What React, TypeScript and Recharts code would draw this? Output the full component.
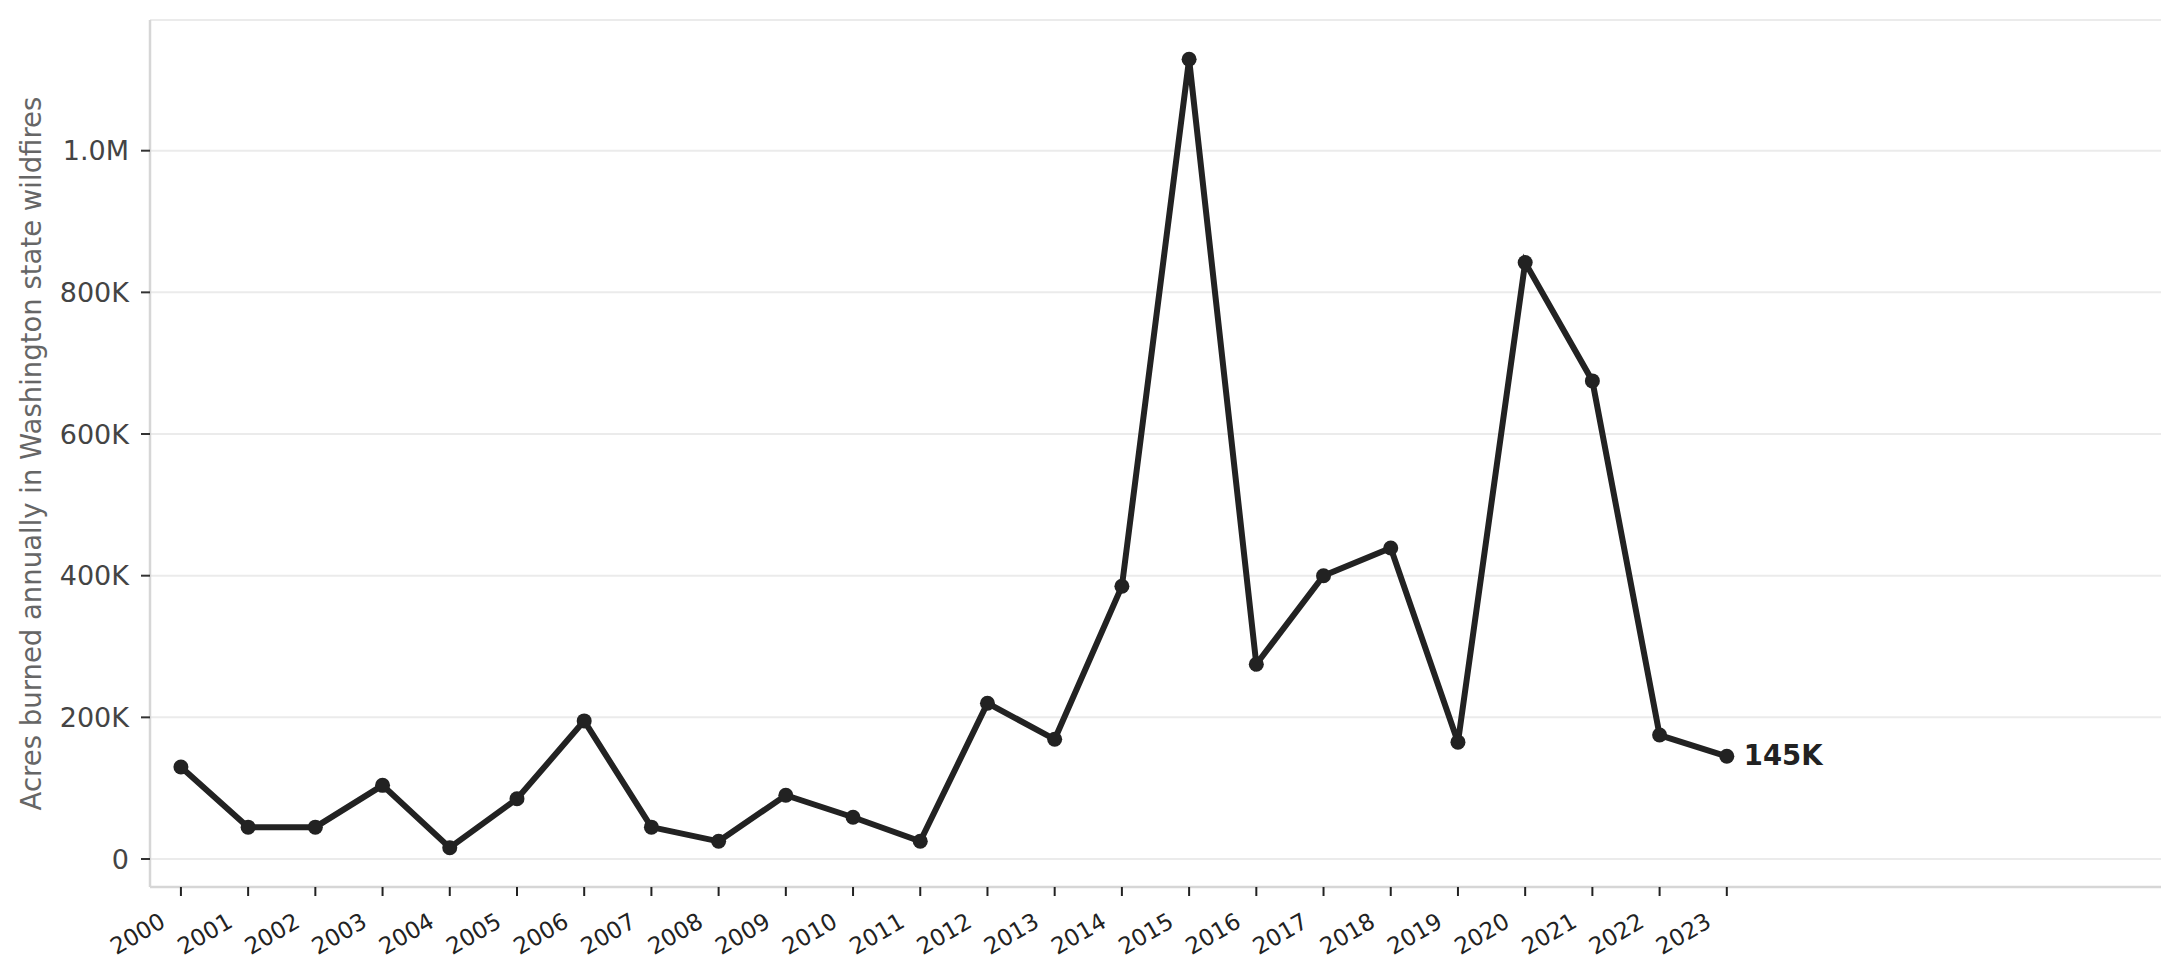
import React from 'react';
import { LineChart, Line, XAxis, YAxis, CartesianGrid, LabelList } from 'recharts';

const years = [
  '2000', '2001', '2002', '2003', '2004', '2005', '2006', '2007', '2008', '2009', '2010', '2011',
  '2012', '2013', '2014', '2015', '2016', '2017', '2018', '2019', '2020', '2021', '2022', '2023',
];

// acres burned per year
const acres = [
  130000, 45000, 45000, 104000, 16000, 85000, 195000, 45000, 25000, 90000, 59000, 25000,
  220000, 169000, 385000, 1129000, 275000, 400000, 439000, 165000, 842000, 675000, 175000, 145000,
];

const yTicks = [0, 200000, 400000, 600000, 800000, 1000000];

const data = years.map((year, i) => ({ x: i, year, acres: acres[i] }));
const xTicks = years.map((_, i) => i);

const FONT = '"DejaVu Sans", sans-serif';
const INK = '#222222';

const formatAcres = (v: number) => {
  if (v === 0) return '0';
  if (v >= 1000000) return `${(v / 1000000).toFixed(1)}M`;
  return `${Math.round(v / 1000)}K`;
};

const YearTick = (props: any) => {
  const { x, y, payload } = props;
  const ax = x - 14;
  const ay = y + 28;
  return (
    <g transform={`translate(${ax}, ${ay})`}>
      <text x={0} y={0} textAnchor="end" transform="rotate(-30)" fontSize={23} fontFamily={FONT} fill={INK}>
        {years[payload.value]}
      </text>
    </g>
  );
};

const LastLabel = (props: any) => {
  const { x, y, value, index } = props;
  if (index !== data.length - 1) return null;
  return (
    <text
      x={x + 17}
      y={y}
      dy="0.3em"
      fontSize={27.5}
      fontWeight="bold"
      fontFamily={FONT}
      fill={INK}
    >
      {formatAcres(value)}
    </text>
  );
};

export default function App() {
  return (
    <div style={{ width: 2179, height: 980, background: '#fff' }}>
      <style>{'body{margin:0}'}</style>
      <LineChart
        width={2179}
        height={980}
        data={data}
        margin={{ top: 20, right: 18, left: 0, bottom: 0 }}
        style={{ fontFamily: FONT }}
      >
        <CartesianGrid horizontal vertical={false} stroke="#ebebeb" strokeWidth={2} />
        <XAxis
          type="number"
          dataKey="x"
          domain={[-0.46, 29.46]}
          ticks={xTicks}
          interval={0}
          allowDataOverflow
          height={93}
          axisLine={{ stroke: '#d6d6d6', strokeWidth: 2.5 }}
          tickLine={{ stroke: INK, strokeWidth: 2 }}
          tickSize={9}
          tickMargin={2}
          tick={<YearTick />}
        />
        <YAxis
          type="number"
          domain={[-39500, 1184500]}
          ticks={yTicks}
          allowDataOverflow
          width={150}
          axisLine={{ stroke: '#d6d6d6', strokeWidth: 2.5 }}
          tickLine={{ stroke: '#333', strokeWidth: 2 }}
          tickSize={9}
          tickMargin={12}
          tickFormatter={formatAcres}
          tick={{ fontSize: 27, fill: '#444', fontFamily: FONT }}
          label={{
            value: 'Acres burned annually in Washington state wildfires',
            angle: -90,
            position: 'insideLeft',
            offset: 31,
            style: { textAnchor: 'middle', fontSize: 27.5, fill: '#666', fontFamily: FONT },
          }}
        />
        <Line
          type="linear"
          dataKey="acres"
          stroke={INK}
          strokeWidth={6}
          dot={{ r: 7.5, fill: INK, stroke: 'none' }}
          activeDot={false}
          isAnimationActive={false}
        >
          <LabelList dataKey="acres" content={<LastLabel />} />
        </Line>
      </LineChart>
    </div>
  );
}
